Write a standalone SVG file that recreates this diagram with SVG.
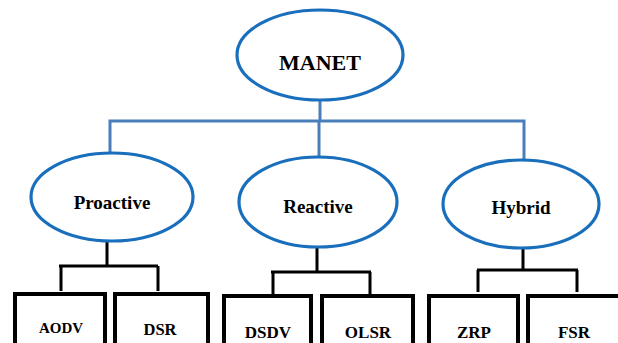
<svg xmlns="http://www.w3.org/2000/svg" width="618" height="343" viewBox="0 0 618 343">
<style>
.ell{fill:#fff;stroke:#1a6fbd;stroke-width:3.2}
.box{fill:#fff;stroke:#000;stroke-width:4}
.blue{fill:none;stroke:#4a7ebb;stroke-width:3}
.blk{fill:none;stroke:#000;stroke-width:3}
.t{font-family:'Liberation Serif','Times New Roman','DejaVu Serif',serif;font-weight:700;fill:#000;text-anchor:middle}
</style>
<rect width="618" height="343" fill="#fff"/>
<g id="connectors">
<path class="blue" d="M320,100 V121 M110,154 V121 H524 V160 M319,121 V158"/>
<path class="blk" d="M107,242 V266 M59,266 H158 M61,266 V291 M158,266 V291"/>
<path class="blk" d="M317,247 V272 M271,272 H371 M273,272 V294 M370,272 V294"/>
<path class="blk" d="M523,248 V270 M477,270 H578 M478,270 V292 M577,270 V292"/>
</g>
<g id="manet"><ellipse class="ell" cx="320" cy="55" rx="83" ry="45"/><text class="t" x="320" y="70" font-size="22" font-family="Liberation Serif, serif">MANET</text></g>
<g id="proactive"><ellipse class="ell" cx="112" cy="197" rx="81" ry="44"/><text class="t" x="112" y="209" font-size="19" font-family="Liberation Serif, serif">Proactive</text></g>
<g id="reactive"><ellipse class="ell" cx="318" cy="202" rx="79" ry="45"/><text class="t" x="318" y="213" font-size="19" font-family="Liberation Serif, serif">Reactive</text></g>
<g id="hybrid"><ellipse class="ell" cx="521" cy="204" rx="78" ry="44"/><text class="t" x="521" y="214" font-size="19" font-family="Liberation Serif, serif">Hybrid</text></g>
<g id="aodv"><rect class="box" x="15" y="294" width="90" height="60"/><text class="t" x="61" y="333" font-size="15" font-family="Liberation Serif, serif">AODV</text></g>
<g id="dsr"><rect class="box" x="115" y="294" width="93" height="60"/><text class="t" x="160" y="335" font-size="16.5" font-family="Liberation Serif, serif">DSR</text></g>
<g id="dsdv"><rect class="box" x="224" y="296" width="87" height="60"/><text class="t" x="268" y="338" font-size="17" font-family="Liberation Serif, serif">DSDV</text></g>
<g id="olsr"><rect class="box" x="322" y="296" width="91" height="60"/><text class="t" x="368" y="338" font-size="17" font-family="Liberation Serif, serif">OLSR</text></g>
<g id="zrp"><rect class="box" x="429" y="296" width="89" height="60"/><text class="t" x="474" y="338" font-size="17" font-family="Liberation Serif, serif">ZRP</text></g>
<g id="fsr"><rect class="box" x="528" y="296" width="92" height="60"/><text class="t" x="574" y="338" font-size="17" font-family="Liberation Serif, serif">FSR</text></g>
</svg>
